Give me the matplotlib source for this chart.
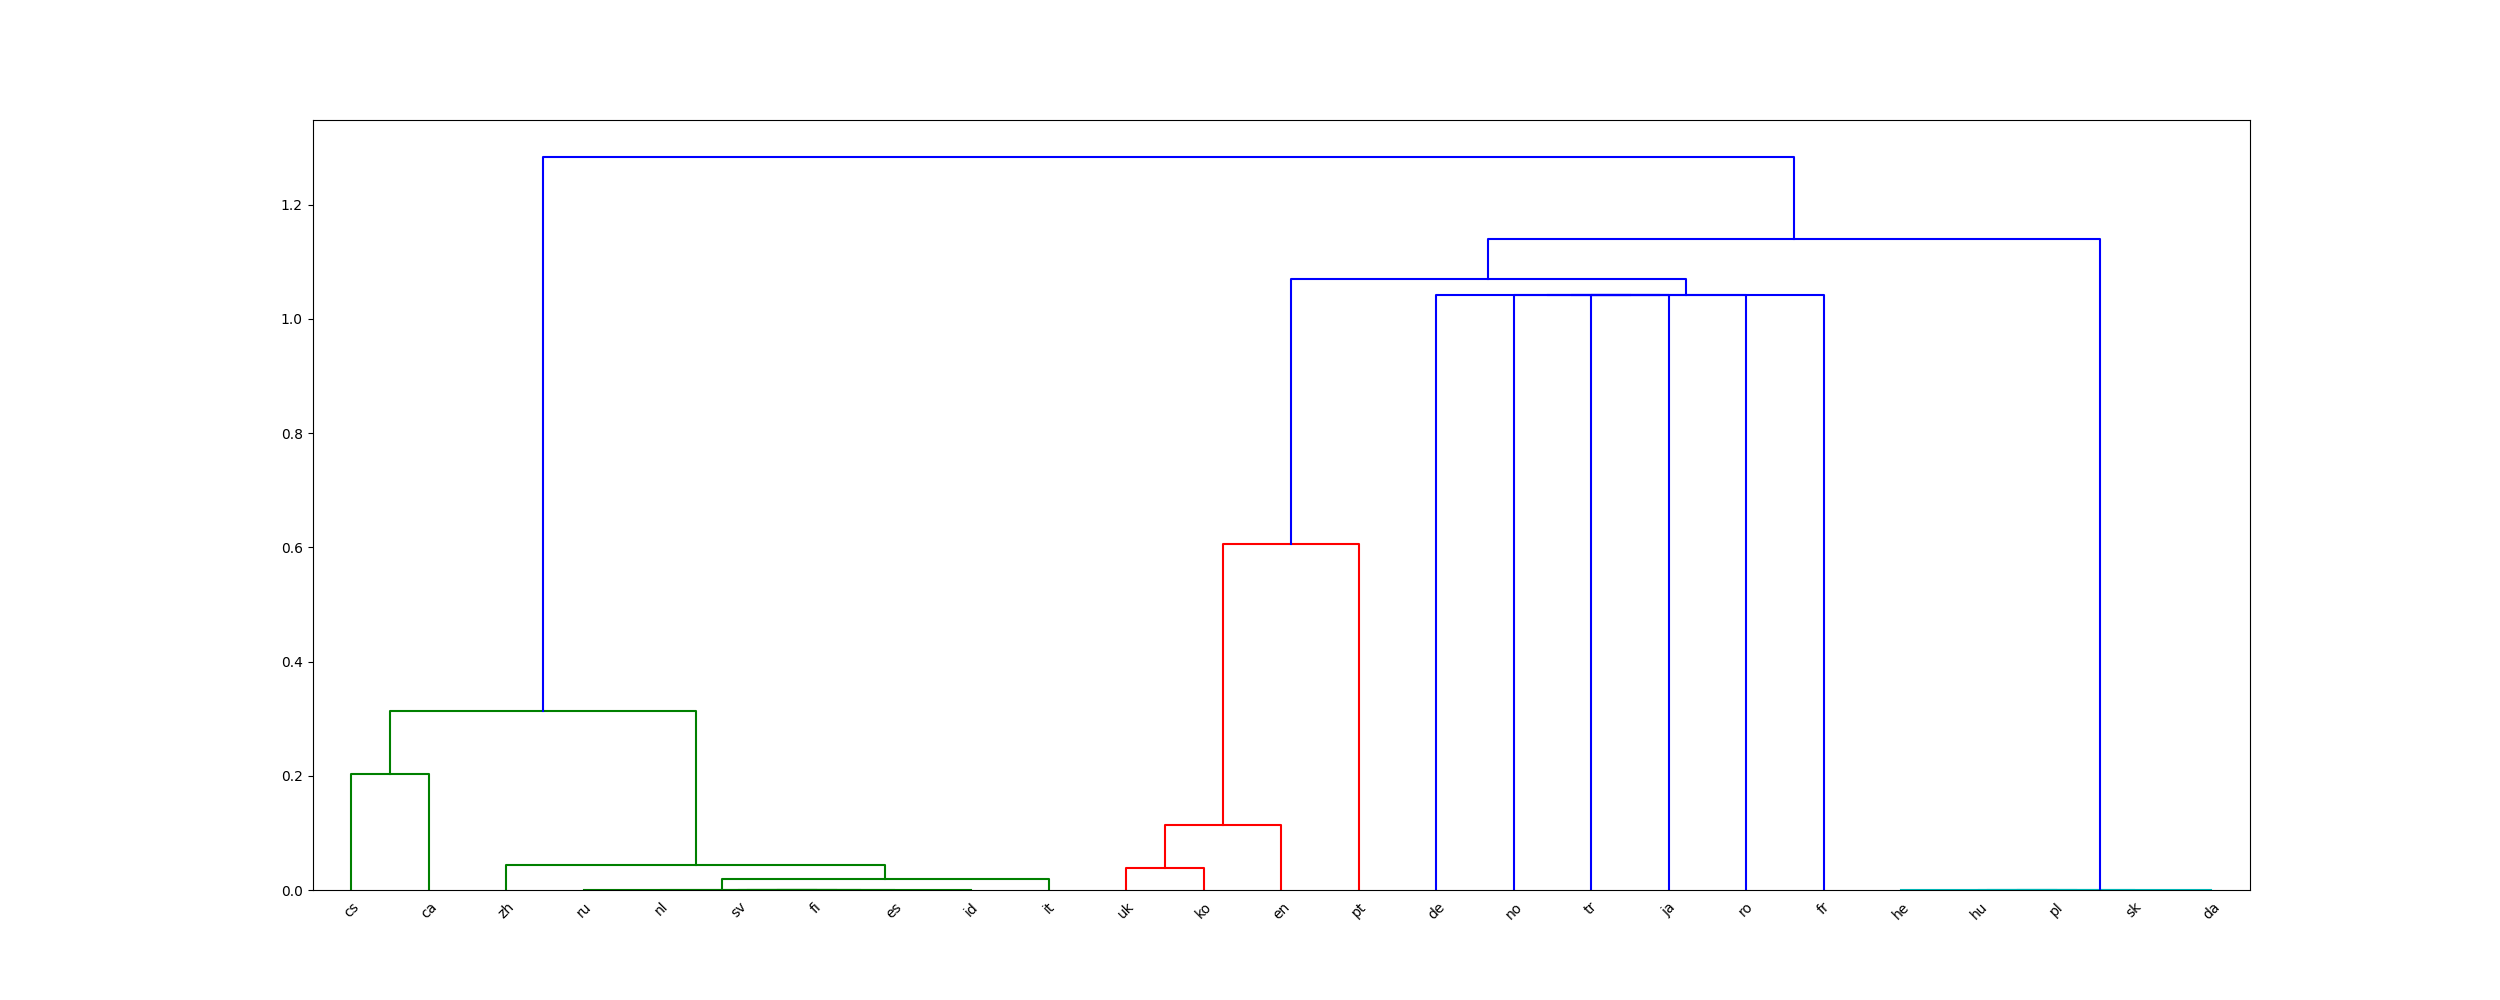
import matplotlib
matplotlib.use("Agg")
import matplotlib.pyplot as plt

# Leaves in displayed order
leaves = ["cs", "ca", "zh", "ru", "nl", "sv", "fi", "es", "id", "it",
          "uk", "ko", "en", "pt", "de", "no", "tr", "ja", "ro", "fr",
          "he", "hu", "pl", "sk", "da"]

# Merges: (left node, right node); node ids >= len(leaves) refer to earlier merges
merge_left = [5, 25, 4, 27, 3, 29, 2, 0, 32,
              10, 34, 35,
              16, 15, 38, 14, 40, 36,
              21, 43, 20, 45,
              42, 33]
merge_right = [6, 7, 26, 8, 28, 9, 30, 1, 31,
               11, 12, 13,
               17, 37, 18, 39, 19, 41,
               22, 23, 44, 24,
               46, 47]
merge_height = [0.0, 0.0, 0.0, 0.0, 0.0, 0.0196, 0.0446, 0.2037, 0.3126,
                0.0377, 0.113, 0.606,
                1.042, 1.042, 1.042, 1.042, 1.042, 1.070,
                0.0, 0.0, 0.0, 0.0,
                1.139, 1.284]
merge_color = ["g", "g", "g", "g", "g", "g", "g", "g", "g",
               "r", "r", "r",
               "b", "b", "b", "b", "b", "b",
               "c", "c", "c", "c",
               "b", "b"]

n = len(leaves)
xpos = {i: 5 + 10 * i for i in range(n)}
ypos = {i: 0.0 for i in range(n)}

fig = plt.figure(figsize=(25, 10), dpi=100)
ax = fig.add_subplot(111)

for k, (l, r, h, c) in enumerate(zip(merge_left, merge_right, merge_height, merge_color)):
    xl, xr = xpos[l], xpos[r]
    yl, yr = ypos[l], ypos[r]
    ax.plot([xl, xl, xr, xr], [yl, h, h, yr], color=c, linewidth=1.5)
    node = n + k
    xpos[node] = (xl + xr) / 2
    ypos[node] = h

ax.set_xlim(0, 10 * n)
ax.set_ylim(0, max(merge_height) * 1.05)
ax.set_xticks([5 + 10 * i for i in range(n)])
ax.set_xticklabels(leaves, rotation=45, fontsize=10)
for line in ax.get_xticklines():
    line.set_visible(False)

fig.savefig("out.png", dpi=100)
